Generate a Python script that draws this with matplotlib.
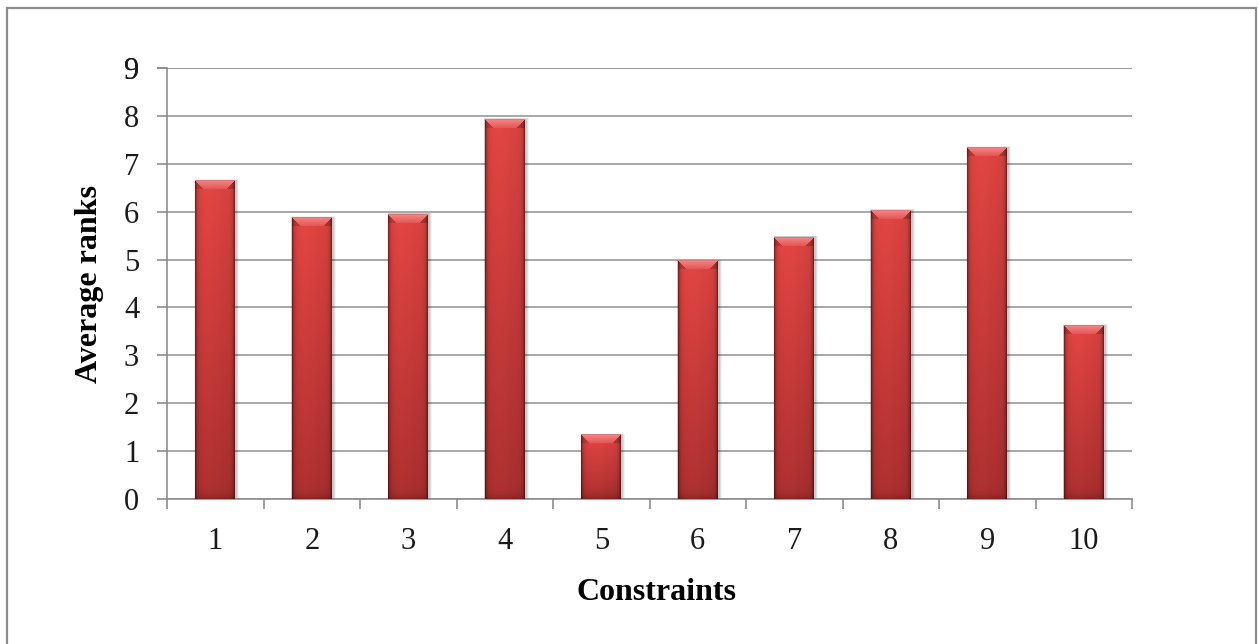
import numpy as np
import matplotlib.pyplot as plt
from matplotlib.patches import Rectangle

# average rank of every constraint
constraints = ['1', '2', '3', '4', '5', '6', '7', '8', '9', '10']
avg_ranks = [6.65, 5.88, 5.95, 7.93, 1.34, 4.97, 5.47, 6.03, 7.34, 3.62]
y_ticks = list(range(10))

plt.rcParams['font.family'] = ['Liberation Serif', 'DejaVu Serif']

W, H = 1259, 644
fig = plt.figure(figsize=(W / 100, H / 100), dpi=100)
ax_l, ax_r, ax_t, ax_b = 167, 1132, 68, 499
ax = fig.add_axes([ax_l / W, 1 - ax_b / H, (ax_r - ax_l) / W, (ax_b - ax_t) / H])

# frame round the whole chart
fig.patches.append(Rectangle((7 / W, -0.05), (1256 - 7) / W, 1.05 - 8 / H,
                             transform=fig.transFigure, fill=False,
                             edgecolor='#8c8c8c', linewidth=1.6))

n = len(constraints)
x = np.arange(1, n + 1)
bw = 0.41
px_per_unit = (ax_b - ax_t) / 9.0
px_per_cat = (ax_r - ax_l) / n


def bevel_bar(w_px, h_px):
    # shaded bar face: light bevelled top, dark sides, darker towards base
    w_px = max(w_px, 4)
    h_px = max(h_px, 4)
    u = np.linspace(0, 1, w_px)
    v = np.linspace(0, 1, h_px)[:, None]
    top = np.array([0.85, 0.26, 0.25])
    bot = np.array([0.65, 0.18, 0.18])
    col = top * (1 - v[..., None]) + bot * v[..., None]
    col = np.repeat(col, w_px, axis=1)
    # brighter towards the left-centre
    hl = 1 + 0.05 * np.exp(-((u - 0.35) / 0.3) ** 2)
    col = col * hl[None, :, None]
    # dark side edges
    cols = np.arange(w_px)
    edge = np.exp(-cols / 1.6) + np.exp(-(w_px - 1 - cols) / 1.6)
    col = col * (1 - 0.45 * np.clip(edge, 0, 1))[None, :, None]
    # darker base band
    rows = np.arange(h_px)
    base = np.exp(-(h_px - 1 - rows) / 4.0)
    col = col * (1 - 0.2 * base)[:, None, None]
    # bevelled top
    bev = 9
    light_a = np.array([0.96, 0.52, 0.52])
    light_b = np.array([0.89, 0.33, 0.32])
    for r in range(min(bev, h_px)):
        t = r / bev
        c = light_a * (1 - t) + light_b * t
        lo, hi = r, w_px - r
        if hi > lo:
            col[r, lo:hi] = c
        col[r, :lo] = col[r, :lo] * 0.85
        col[r, hi:] = col[r, hi:] * 0.8
    col[0, :] = col[0, :] * 0.9
    return np.clip(col, 0, 1)


for xi, val in zip(x, avg_ranks):
    # soft shadow
    for k, a in zip([4, 3, 2], [0.05, 0.07, 0.1]):
        dx = k / px_per_cat
        dy = k / px_per_unit
        ax.add_patch(Rectangle((xi - bw / 2 - dx * 0.3, 0), bw + dx * 1.3, val + dy * 0.3,
                               facecolor='#000000', alpha=a, edgecolor='none', zorder=2))
    img = bevel_bar(int(round(bw * px_per_cat)), int(round(val * px_per_unit)))
    ax.imshow(img, extent=(xi - bw / 2, xi + bw / 2, 0, val), aspect='auto',
              origin='upper', interpolation='bilinear', zorder=3)

ax.set_xlim(0.5, n + 0.5)
ax.set_ylim(0, 9)

ax.set_yticks(y_ticks + [9])
ax.yaxis.grid(True, color='#9a9a9a', linewidth=1.2)
ax.set_axisbelow(True)
ax.tick_params(axis='y', length=7, width=1.2, color='#8c8c8c', pad=13,
               labelsize=22, labelcolor='#1a1a1a')

# category boundaries carry the ticks, centres carry the labels
ax.set_xticks(np.arange(0.5, n + 1, 1.0))
ax.set_xticklabels([])
ax.set_xticks(x, minor=True)
ax.set_xticklabels(constraints, minor=True)
ax.tick_params(axis='x', which='major', length=7, width=1.2, color='#8c8c8c')
ax.tick_params(axis='x', which='minor', length=0, pad=20, labelsize=22,
               labelcolor='#1a1a1a')

for s in ['top', 'right']:
    ax.spines[s].set_visible(False)
for s in ['left', 'bottom']:
    ax.spines[s].set_color('#8c8c8c')
    ax.spines[s].set_linewidth(1.2)

fig.text(89 / W, 1 - 284 / H, 'Average ranks', rotation=90, ha='center',
         va='center', fontsize=23, fontweight='bold')
fig.text(656 / W, 1 - 593 / H, 'Constraints', ha='center', va='center',
         fontsize=23, fontweight='bold')

fig.savefig('out.png', dpi=100)
